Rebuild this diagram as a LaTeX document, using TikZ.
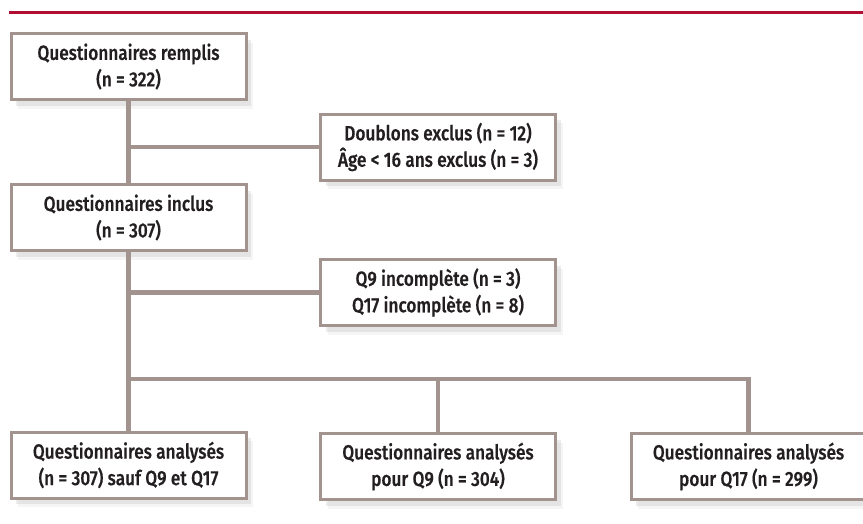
\documentclass[tikz,border=0pt]{standalone}
\usepackage{fontspec}
\setmainfont{Fira Sans}[UprightFont=* Medium, FakeStretch=0.84, FakeBold=0.5]
\usetikzlibrary{shadows}

\definecolor{framegray}{RGB}{163,147,142}
\definecolor{titlered}{RGB}{178,14,52}
\definecolor{inkdark}{RGB}{35,31,32}

\begin{document}
\begin{tikzpicture}[x=1pt, y=-1pt,
  flowbox/.style={draw=framegray, line width=3pt, fill=white, text=inkdark,
    minimum width=235pt, minimum height=66pt, align=center, inner sep=0pt,
    font=\fontsize{20.5}{26.5}\selectfont,
    drop shadow={shadow xshift=7pt, shadow yshift=-9pt, opacity=.08},
    drop shadow={shadow xshift=5pt, shadow yshift=-6pt, opacity=.15}},
  link/.style={draw=framegray, line width=4.5pt}]

\useasboundingbox (0,0) rectangle (863,523);

% top rule
\draw[titlered, line width=3pt] (9,12.5)--(863,12.5);

% boxes
\node[flowbox] (remplis)  at (128.5,66.5) {Questionnaires remplis\\(n = 322)};
\node[flowbox] (exclus)   at (438,147)    {Doublons exclus (n = 12)\\Âge < 16 ans exclus (n = 3)};
\node[flowbox] (inclus)   at (128.5,217.5){Questionnaires inclus\\(n = 307)};
\node[flowbox] (incompl)  at (438,292.5)  {Q9 incomplète (n = 3)\\Q17 incomplète (n = 8)};
\node[flowbox] (sauf)     at (128.5,465)  {Questionnaires analysés\\(n = 307) sauf Q9 et Q17};
\node[flowbox] (pourQneuf) at (438,466.5) {Questionnaires analysés\\pour Q9 (n = 304)};
\node[flowbox] (pourQdixsept) at (748.5,466.5) {Questionnaires analysés\\pour Q17 (n = 299)};

\coordinate (bus) at (130,379);

% connectors
\draw[link] (remplis.south) -- (inclus.north);
\draw[link] (remplis.south |- exclus.west) -- (exclus.west);
\draw[link] (inclus.south) -- (sauf.north);
\draw[link] (inclus.south |- incompl.west) -- (incompl.west);
\draw[link] (inclus.south |- bus) -- (pourQdixsept.north |- bus) -- (pourQdixsept.north);
\draw[link] (pourQneuf.north |- bus) -- (pourQneuf.north);
\end{tikzpicture}
\end{document}
